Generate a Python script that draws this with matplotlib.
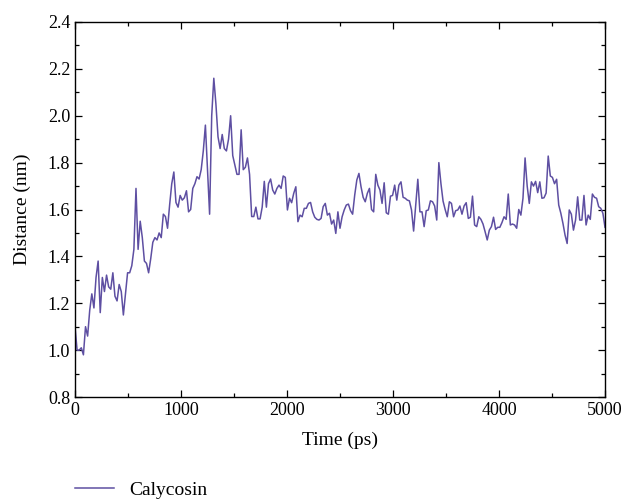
import numpy as np
import matplotlib
matplotlib.use("Agg")
import matplotlib.pyplot as plt
from matplotlib.ticker import MultipleLocator

# distance values, one sample every ~20 ps
seg1 = [1.10, 1.00, 1.00, 1.01, 0.98, 1.10, 1.06, 1.17, 1.24, 1.18,
        1.31, 1.38, 1.16, 1.31, 1.25, 1.32, 1.27, 1.26, 1.33, 1.23,
        1.21, 1.28, 1.25, 1.15, 1.24, 1.33, 1.33, 1.36, 1.43, 1.69,
        1.43, 1.55, 1.48, 1.38, 1.37, 1.33, 1.39, 1.46, 1.48, 1.47,
        1.50, 1.48, 1.58, 1.57, 1.52, 1.62, 1.71, 1.76, 1.63, 1.61,
        1.66, 1.64, 1.65, 1.68, 1.59, 1.60, 1.69, 1.71, 1.74, 1.73,
        1.77, 1.85, 1.96]
seg2 = [1.77, 1.58, 2.00, 2.16, 2.05, 1.91, 1.86, 1.92, 1.86, 1.85,
        1.90, 2.00, 1.83, 1.79, 1.75, 1.75, 1.94, 1.77, 1.78, 1.82,
        1.75, 1.57, 1.57, 1.61, 1.56, 1.56, 1.61, 1.72, 1.61, 1.71,
        1.73]
seg3 = [1.683, 1.666, 1.69, 1.704, 1.69, 1.743, 1.737, 1.598, 1.648, 1.629,
        1.669, 1.697, 1.548, 1.576, 1.569, 1.605, 1.605, 1.626, 1.630, 1.59,
        1.567, 1.558, 1.555, 1.562, 1.612, 1.626, 1.576, 1.584, 1.538, 1.555,
        1.498]
seg4 = [1.59, 1.52, 1.569, 1.598, 1.619, 1.623, 1.595, 1.58, 1.662, 1.726,
        1.754, 1.697, 1.652, 1.633, 1.669, 1.69, 1.60, 1.59, 1.75, 1.704,
        1.683, 1.626, 1.714, 1.586, 1.58, 1.657, 1.66, 1.704, 1.64, 1.704,
        1.718, 1.652]
seg5 = [1.648, 1.64, 1.637, 1.598, 1.508, 1.619, 1.729, 1.59, 1.59, 1.527,
        1.595, 1.598, 1.637, 1.633, 1.615, 1.555, 1.80, 1.71, 1.636, 1.60,
        1.569, 1.633, 1.626, 1.569, 1.595, 1.598, 1.615, 1.58, 1.615, 1.629,
        1.562]
seg6 = [1.567, 1.657, 1.534, 1.527, 1.569, 1.558, 1.538, 1.505, 1.47, 1.512,
        1.527, 1.567, 1.515, 1.524, 1.524, 1.544, 1.569, 1.558, 1.666, 1.534,
        1.538, 1.534, 1.52, 1.60, 1.576, 1.648, 1.82, 1.70, 1.626, 1.718,
        1.70, 1.72, 1.672]
seg7 = [1.718, 1.648, 1.65, 1.67, 1.828, 1.743, 1.737, 1.71, 1.729, 1.619,
        1.584, 1.541, 1.491, 1.455, 1.598, 1.58, 1.512, 1.555, 1.654, 1.555,
        1.555, 1.66, 1.534, 1.576, 1.558, 1.666, 1.652, 1.648, 1.612, 1.605,
        1.584, 1.524]

distance = seg1 + seg2 + seg3 + seg4 + seg5 + seg6 + seg7
t_start, t_end = 0, 5000
time = np.linspace(t_start, t_end, len(distance))

x_ticks = [0, 1000, 2000, 3000, 4000, 5000]
y_ticks = [0.8, 1.0, 1.2, 1.4, 1.6, 1.8, 2.0, 2.2, 2.4]

plt.rcParams['font.family'] = ['Liberation Serif', 'DejaVu Serif']
color = '#5e4fa2'

fig = plt.figure(figsize=(6.24, 5.0), dpi=100)
ax = fig.add_axes([75 / 624, 1 - 397 / 500, 530 / 624, 375 / 500])

ax.plot(time, distance, color=color, lw=1.1, label='Calycosin')

ax.set_xlim(0, 5000)
ax.set_ylim(0.8, 2.4)
ax.set_xticks(x_ticks)
ax.set_yticks(y_ticks)
ax.set_yticklabels([f"{v:.1f}" for v in y_ticks])
ax.xaxis.set_minor_locator(MultipleLocator(500))
ax.yaxis.set_minor_locator(MultipleLocator(0.1))
ax.tick_params(which='both', direction='in', top=True, right=True,
               labelsize=13, width=0.9)
ax.tick_params(which='major', length=5)
ax.tick_params(which='minor', length=3)
for s in ax.spines.values():
    s.set_linewidth(1.0)

ax.set_xlabel('Time (ps)', fontsize=14, labelpad=9)
ax.set_ylabel('Distance (nm)', fontsize=14, labelpad=12)

fig.legend(loc='center left', bbox_to_anchor=(75 / 624, 1 - 490 / 500),
           frameon=False, fontsize=14, handlelength=2.0, handletextpad=0.8,
           borderpad=0, borderaxespad=0)

fig.savefig('out.png', dpi=100)
